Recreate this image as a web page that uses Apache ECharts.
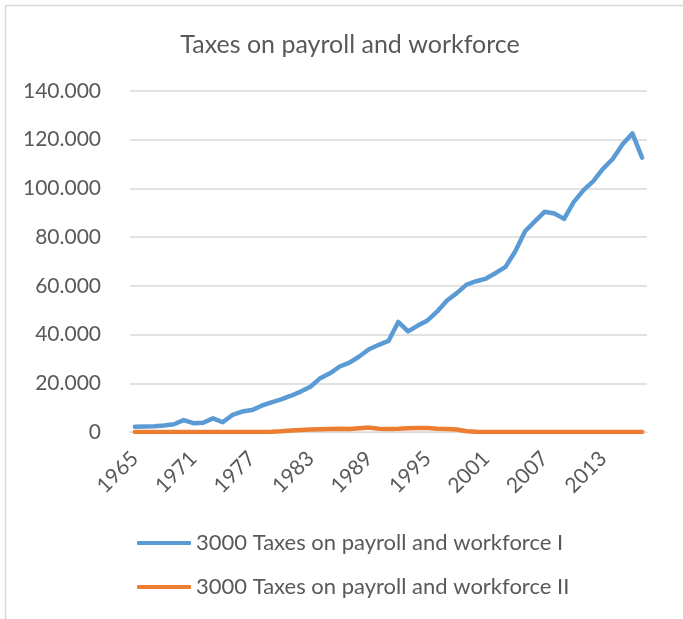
<!DOCTYPE html>
<html>
<head>
<meta charset="utf-8">
<title>Taxes on payroll and workforce</title>
<script src="https://cdn.jsdelivr.net/npm/echarts@6/dist/echarts.min.js"></script>
<style>
  html, body { margin: 0; padding: 0; background: #ffffff; }
  #chart { width: 683px; height: 619px; }
</style>
</head>
<body>
<div id="chart"></div>
<script>
// Years 1965–2017
const years = [];
for (let y = 1965; y <= 2017; y++) years.push(String(y));

// 3000 Taxes on payroll and workforce I
const seriesI = [
  2200, 2300, 2400, 2700, 3200, 4900, 3600, 3800, 5600, 4000,
  7000, 8400, 9000, 10800, 12200, 13400, 14900, 16600, 18600, 22100,
  24100, 26900, 28500, 31000, 34000, 35800, 37400, 45200, 41300, 43700,
  45800, 49500, 54000, 57000, 60500, 61900, 63000, 65300, 67800, 74200,
  82400, 86500, 90400, 89700, 87500, 94500, 99300, 103000, 108100, 112200,
  118100, 122600, 112600
];

// 3000 Taxes on payroll and workforce II
const seriesII = [
  0, 0, 0, 0, 0, 0, 0, 0, 0, 0,
  0, 0, 0, 0, 100, 300, 600, 800, 1000, 1100,
  1200, 1300, 1200, 1500, 1800, 1300, 1200, 1300, 1500, 1600,
  1600, 1300, 1200, 1000, 300, 100, 0, 0, 0, 0,
  0, 0, 0, 0, 0, 0, 0, 0, 0, 0,
  0, 0, 0
];

const seriesNames = [
  '3000 Taxes on payroll and workforce I',
  '3000 Taxes on payroll and workforce II'
];

const FONT = 'Lato, "Open Sans", sans-serif';
const TEXT = '#595959';

const chart = echarts.init(document.getElementById('chart'), null, { renderer: 'canvas' });

chart.setOption({
  backgroundColor: '#ffffff',
  animation: false,
  title: {
    text: 'Taxes on payroll and workforce',
    left: 345,
    textAlign: 'center',
    top: 27,
    textStyle: { color: TEXT, fontFamily: FONT, fontSize: 25, fontWeight: 'normal' }
  },
  graphic: [{
    type: 'rect',
    shape: { x: 5.5, y: 5.5, width: 720, height: 660 },
    style: { fill: 'none', stroke: '#d9d9d9', lineWidth: 1.5 },
    silent: true
  }],
  legend: {
    orient: 'vertical',
    left: 132,
    top: 525,
    itemWidth: 54,
    itemHeight: 4,
    itemGap: 18,
    icon: 'roundRect',
    textStyle: { color: TEXT, fontFamily: FONT, fontSize: 22, lineHeight: 26, padding: [0, 0, 0, 0] },
    data: seriesNames
  },
  grid: { left: 130, right: 36, top: 91, bottom: 187, containLabel: false },
  xAxis: {
    type: 'category',
    data: years,
    boundaryGap: true,
    axisLine: { show: true, lineStyle: { color: '#d9d9d9', width: 1 } },
    axisTick: { show: false },
    axisLabel: {
      interval: 5,
      rotate: 45,
      margin: 23,
      color: TEXT,
      fontFamily: FONT,
      fontSize: 21
    }
  },
  yAxis: {
    type: 'value',
    min: 0,
    max: 140000,
    interval: 20000,
    axisLine: { show: false },
    axisTick: { show: false },
    splitLine: { lineStyle: { color: '#d9d9d9', width: 1.5 } },
    axisLabel: {
      margin: 29,
      color: TEXT,
      fontFamily: FONT,
      fontSize: 21,
      formatter: function (v) {
        if (v === 0) return '0';
        return String(v / 1000) + '.000';
      }
    }
  },
  series: [
    {
      name: seriesNames[0],
      type: 'line',
      data: seriesI,
      symbol: 'none',
      smooth: false,
      color: '#5b9bd5',
      lineStyle: { color: '#5b9bd5', width: 4.5, cap: 'round', join: 'round' },
      z: 3
    },
    {
      name: seriesNames[1],
      type: 'line',
      data: seriesII,
      symbol: 'none',
      smooth: false,
      color: '#ed7d31',
      lineStyle: { color: '#ed7d31', width: 4.5, cap: 'round', join: 'round' },
      z: 4
    }
  ]
});
</script>
</body>
</html>
